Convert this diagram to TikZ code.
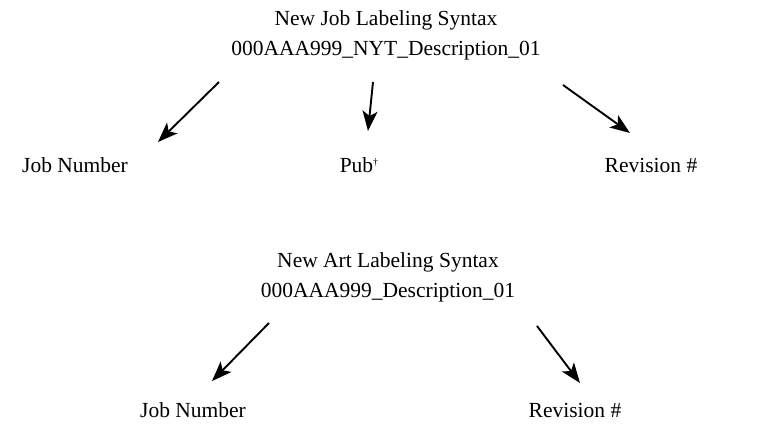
\documentclass[tikz,border=0pt]{standalone}
\usepackage{fontspec}
\setmainfont{Liberation Serif}
\usetikzlibrary{arrows.meta}
\tikzset{
  lbl/.style={inner sep=0pt, font=\fontsize{21.5}{30}\selectfont, align=center},
  pointer/.style={line width=1.9pt, -{Stealth[length=20pt, width=15pt, inset=5pt]}}
}
\begin{document}
\begin{tikzpicture}[x=1pt, y=-1pt]
  \useasboundingbox (0,0) rectangle (763,429);
  % job labeling scheme
  \node[lbl] (jobhead) at (386,35) {New Job Labeling Syntax\\000AAA999\_NYT\_Description\_01};
  \node[lbl] (jobnum) at (75,165) {Job Number};
  \node[lbl] (pub) at (359,165) {Pub\raisebox{0.7ex}{\fontsize{10}{10}\selectfont\dag}};
  \node[lbl] (jobrev) at (651,165) {Revision \#};
  \coordinate (j1s) at (219,82);  \coordinate (j1e) at (158,142);
  \coordinate (j2s) at (373,82);  \coordinate (j2e) at (368,131);
  \coordinate (j3s) at (563,85);  \coordinate (j3e) at (630,133);
  \draw[pointer] (j1s) -- (j1e);
  \draw[pointer] (j2s) -- (j2e);
  \draw[pointer] (j3s) -- (j3e);
  % art labeling scheme
  \node[lbl] (arthead) at (388,277) {New Art Labeling Syntax\\000AAA999\_Description\_01};
  \node[lbl] (artnum) at (193,410) {Job Number};
  \node[lbl] (artrev) at (575,410) {Revision \#};
  \coordinate (a1s) at (269,323); \coordinate (a1e) at (212,381);
  \coordinate (a2s) at (537,326); \coordinate (a2e) at (580,383);
  \draw[pointer] (a1s) -- (a1e);
  \draw[pointer] (a2s) -- (a2e);
\end{tikzpicture}
\end{document}
